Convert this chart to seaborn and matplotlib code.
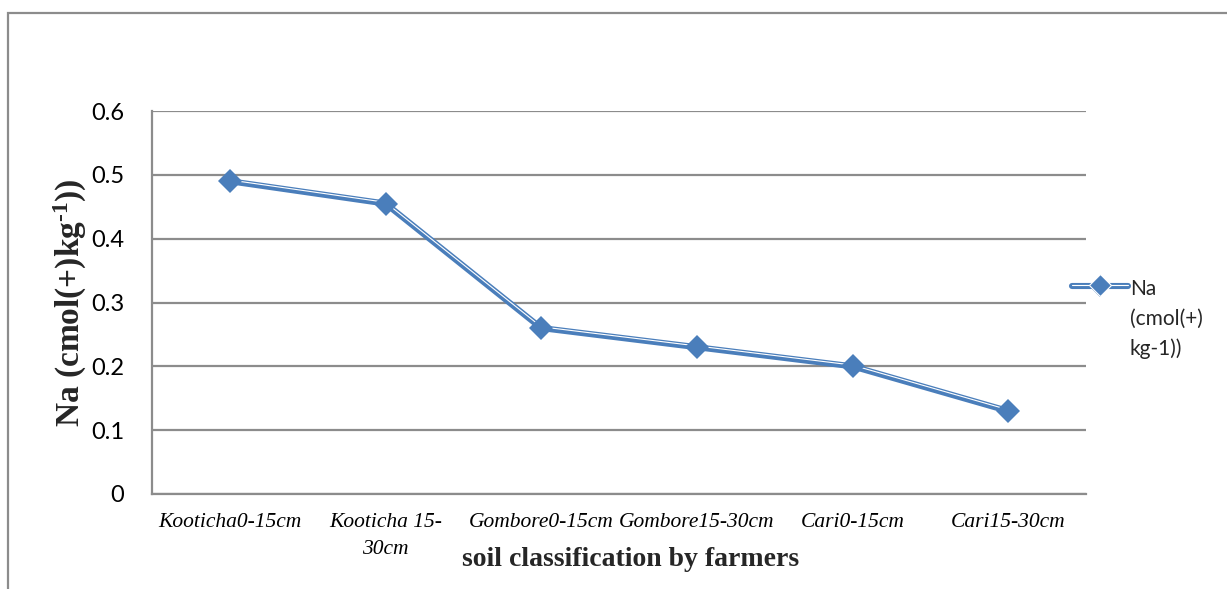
import matplotlib
matplotlib.use("Agg")
import matplotlib.pyplot as plt
import matplotlib.patheffects as pe
from matplotlib.lines import Line2D
from matplotlib.patches import Rectangle
import seaborn as sns
import pandas as pd

# Sodium content by soil type and depth
categories = ["Kooticha0-15cm", "Kooticha 15-30cm", "Gombore0-15cm",
              "Gombore15-30cm", "Cari0-15cm", "Cari15-30cm"]
tick_labels = ["Kooticha0-15cm", "Kooticha 15-\n30cm", "Gombore0-15cm",
               "Gombore15-30cm", "Cari0-15cm", "Cari15-30cm"]
na_values = [0.49, 0.455, 0.26, 0.23, 0.20, 0.13]
series_name = "Na\n(cmol(+)\nkg-1))"
y_ticks = [0, 0.1, 0.2, 0.3, 0.4, 0.5, 0.6]

df = pd.DataFrame({"soil": categories, "na": na_values})

sns.set_theme(style="white")
plt.rcParams["font.family"] = ["Lato", "DejaVu Sans"]
plt.rcParams["mathtext.fontset"] = "custom"
plt.rcParams["mathtext.rm"] = "Liberation Serif:bold"
plt.rcParams["mathtext.default"] = "rm"

BLUE = "#4A7EBB"
GRID = "#8C8C8C"
W, H = 1227, 589

fig = plt.figure(figsize=(W / 100, H / 100), dpi=100)
fig.patch.set_facecolor("white")

# outer chart-area frame
fig.patches.append(Rectangle((8 / W, -0.1), 1.2, (H - 13) / H + 0.1,
                             transform=fig.transFigure, fill=False,
                             edgecolor=GRID, linewidth=1.6, zorder=0))

ax = fig.add_axes([152 / W, (H - 494) / H, (1086 - 152) / W, (494 - 111) / H])

# double-stroke connecting line
sns.lineplot(data=df, x="soil", y="na", ax=ax, sort=False, color=BLUE,
             linewidth=4.4, legend=False)
line = ax.lines[-1]
line.set_path_effects([pe.Normal(),
                       pe.Stroke(linewidth=0.8, foreground="white", offset=(0, 0.9))])
line.set_zorder(3)

# diamond markers
sns.lineplot(data=df, x="soil", y="na", ax=ax, sort=False, color=BLUE,
             linestyle="none", marker="D", markersize=12.5, markeredgewidth=0,
             legend=False)
ax.lines[-1].set_zorder(4)

ax.set_xlim(-0.5, len(categories) - 0.5)
ax.set_ylim(0, 0.6)
ax.set_yticks(y_ticks)
ax.set_yticklabels([f"{t:g}" for t in y_ticks], fontsize=17)
ax.set_xticks(range(len(categories)))
ax.set_xticklabels(tick_labels, fontsize=15.5, style="italic",
                   family="Liberation Serif", linespacing=1.55)
ax.tick_params(axis="y", length=0, pad=20, colors="black")
ax.tick_params(axis="x", length=0, pad=14, colors="black")
for lbl in ax.get_xticklabels():
    lbl.set_verticalalignment("top")

ax.yaxis.grid(True, color=GRID, linewidth=1.6)
ax.set_axisbelow(True)
for side in ["top", "right"]:
    ax.spines[side].set_visible(False)
for side in ["left", "bottom"]:
    ax.spines[side].set_color(GRID)
    ax.spines[side].set_linewidth(1.6)

ax.set_xlabel("soil classification by farmers", fontsize=20, fontweight="bold",
              family="Liberation Serif", va="center")
ax.xaxis.set_label_coords(0.512, -0.17)
ax.set_ylabel(r"Na (cmol(+)kg$^{\text{-}1}$))", fontsize=24, fontweight="bold",
              family="Liberation Serif")
ax.yaxis.set_label_coords(-0.067, 0.5)

# legend sample with double line and diamond
handle = Line2D([], [], color=BLUE, linewidth=4.4, marker="D", markersize=11,
                markeredgewidth=0)
leg = ax.legend([handle], [series_name], loc="upper left",
                bbox_to_anchor=(0.969, 0.6), frameon=False, fontsize=15,
                handlelength=2.7, handletextpad=0.1, labelspacing=0.2,
                borderpad=0.2)
for text in leg.get_texts():
    text.set_linespacing(1.6)
for col in leg._legend_handle_box.get_children():
    for row in col.get_children():
        row.align = "top"
for h in leg.legend_handles:
    h.set_path_effects([pe.Normal(),
                        pe.Stroke(linewidth=0.8, foreground="white", offset=(0, 0.9))])

fig.savefig("out.png", dpi=100, facecolor="white")
